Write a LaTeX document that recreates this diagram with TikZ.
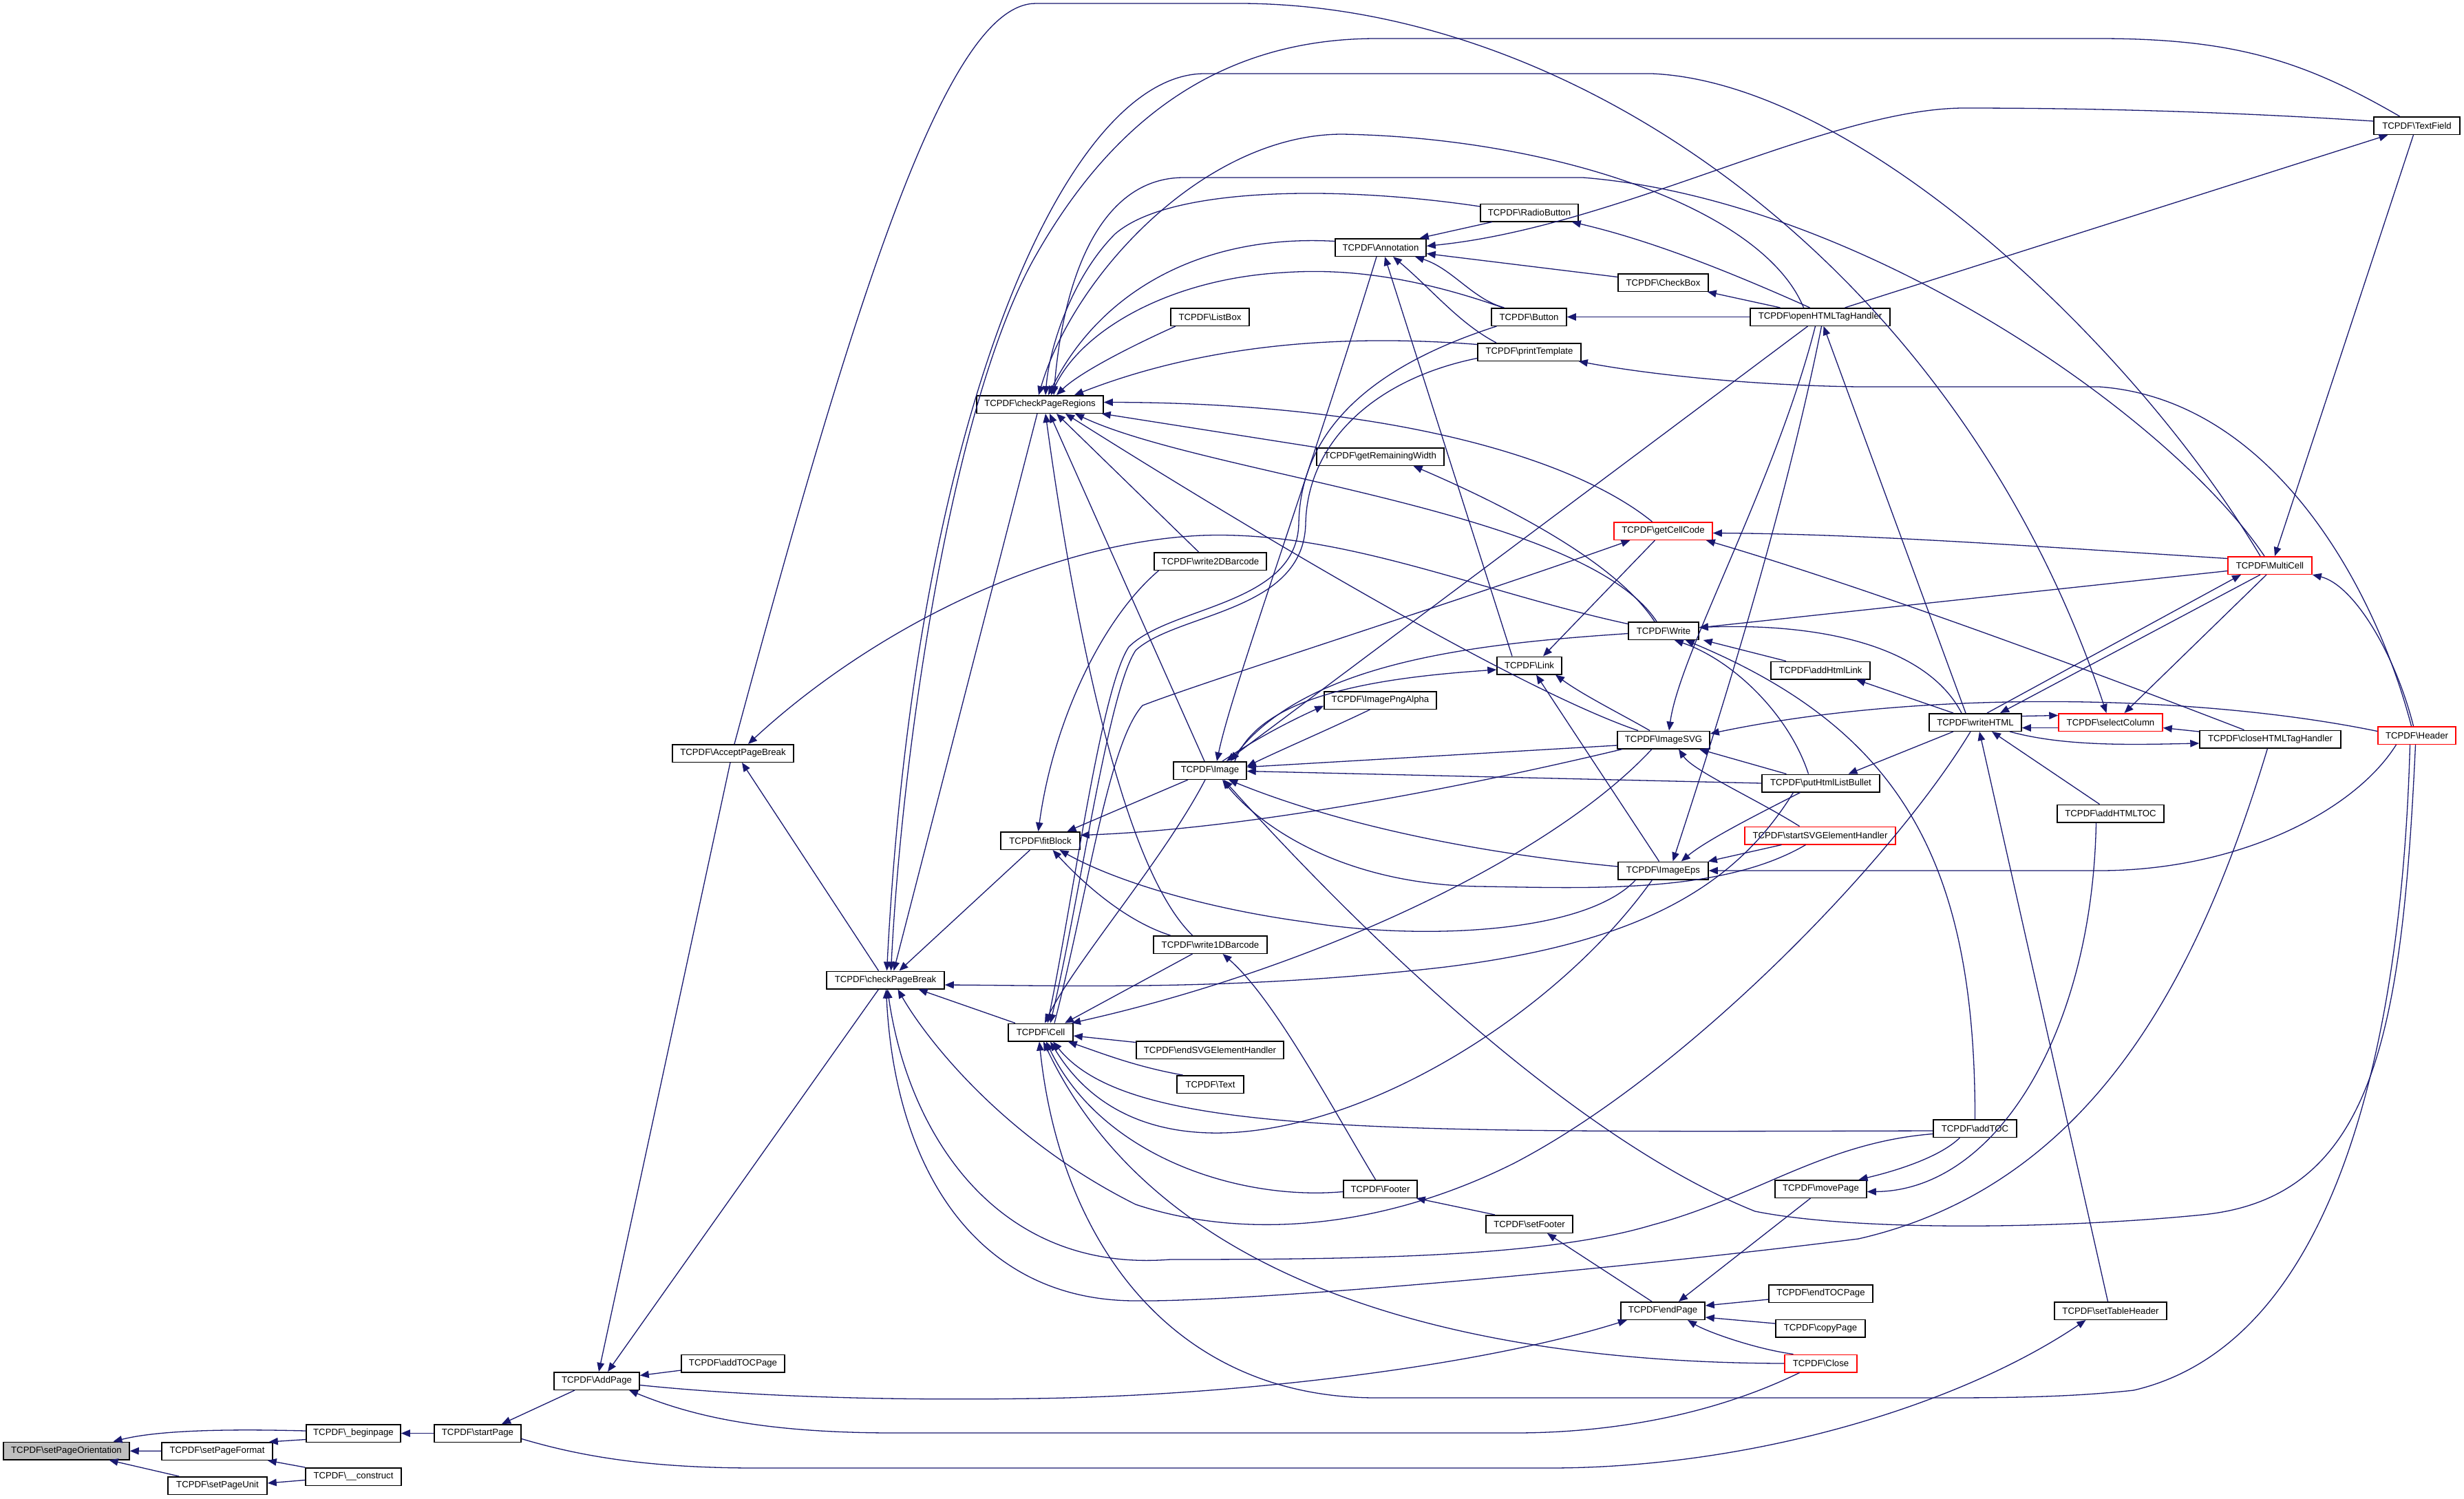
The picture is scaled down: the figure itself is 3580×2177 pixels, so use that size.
\documentclass[tikz,border=0pt]{standalone}
\usepackage{fontspec}
\setmainfont{Liberation Sans}
\usetikzlibrary{arrows.meta}
\definecolor{edgecol}{RGB}{25,25,112}
\definecolor{grayf}{RGB}{191,191,191}
\begin{document}
\begin{tikzpicture}[x=1pt,y=-1pt,
  nbox/.style={draw=black, line width=1.5pt, fill=white, minimum height=25.5pt, inner xsep=3pt, inner ysep=0pt, font=\fontsize{13.2}{15}\selectfont},
  rbox/.style={nbox, draw=red},
  gbox/.style={nbox, fill=grayf},
  ed/.style={draw=edgecol, line width=1.3pt, -{Triangle[length=13pt,width=10.5pt]}}]
\fill[white] (0,0) rectangle (3580,2177);
\useasboundingbox (0,0) rectangle (3580,2177);
% nodes
\node[gbox, minimum width=183pt] (spo) at (96.5,2108) {TCPDF\textbackslash setPageOrientation};
\node[nbox, minimum width=161pt] (spf) at (315.5,2108.5) {TCPDF\textbackslash setPageFormat};
\node[nbox, minimum width=144pt] (spu) at (316,2158.5) {TCPDF\textbackslash setPageUnit};
\node[nbox, minimum width=137pt] (bgp) at (513.5,2082.5) {TCPDF\textbackslash\_beginpage};
\node[nbox, minimum width=139pt] (cons) at (513.5,2145.5) {TCPDF\textbackslash\_\_construct};
\node[nbox, minimum width=126pt] (stp) at (694,2082.5) {TCPDF\textbackslash startPage};
\node[nbox, minimum width=124pt] (addp) at (867,2006.5) {TCPDF\textbackslash AddPage};
\node[nbox, minimum width=176pt] (apb) at (1065,1094.5) {TCPDF\textbackslash AcceptPageBreak};
\node[nbox, minimum width=150pt] (addtocp) at (1065,1981) {TCPDF\textbackslash addTOCPage};
\node[nbox, minimum width=171pt] (cpb) at (1286.5,1424) {TCPDF\textbackslash checkPageBreak};
\node[nbox, minimum width=184pt] (cpr) at (1511,587.5) {TCPDF\textbackslash checkPageRegions};
\node[nbox, minimum width=115pt] (fit) at (1511.5,1221.5) {TCPDF\textbackslash fitBlock};
\node[nbox, minimum width=94pt] (cell) at (1512,1500) {TCPDF\textbackslash Cell};
\node[nbox, minimum width=114pt] (listbox) at (1758,460.5) {TCPDF\textbackslash ListBox};
\node[nbox, minimum width=163pt] (w2d) at (1758.5,815.5) {TCPDF\textbackslash write2DBarcode};
\node[nbox, minimum width=106pt] (image) at (1758,1119.5) {TCPDF\textbackslash Image};
\node[nbox, minimum width=165pt] (w1d) at (1758.5,1372.5) {TCPDF\textbackslash write1DBarcode};
\node[nbox, minimum width=214pt] (endsvg) at (1758,1525.5) {TCPDF\textbackslash endSVGElementHandler};
\node[nbox, minimum width=97pt] (text) at (1758.5,1575.5) {TCPDF\textbackslash Text};
\node[nbox, minimum width=132pt] (annot) at (2006,359.5) {TCPDF\textbackslash Annotation};
\node[nbox, minimum width=185pt] (grw) at (2005.5,663.5) {TCPDF\textbackslash getRemainingWidth};
\node[nbox, minimum width=163pt] (pngalpha) at (2005.5,1017.5) {TCPDF\textbackslash ImagePngAlpha};
\node[nbox, minimum width=107pt] (footer) at (2005.5,1727.5) {TCPDF\textbackslash Footer};
\node[nbox, minimum width=142pt] (radio) at (2222,309) {TCPDF\textbackslash RadioButton};
\node[nbox, minimum width=109pt] (button) at (2221.5,460.5) {TCPDF\textbackslash Button};
\node[nbox, minimum width=150pt] (ptpl) at (2222,511.5) {TCPDF\textbackslash printTemplate};
\node[nbox, minimum width=94pt] (link) at (2222,967) {TCPDF\textbackslash Link};
\node[nbox, minimum width=126pt] (setfooter) at (2222,1778.5) {TCPDF\textbackslash setFooter};
\node[nbox, minimum width=131pt] (checkbox) at (2416.5,410.5) {TCPDF\textbackslash CheckBox};
\node[rbox, minimum width=143pt] (gcc) at (2416.5,771.5) {TCPDF\textbackslash getCellCode};
\node[nbox, minimum width=102pt] (write) at (2417,916.5) {TCPDF\textbackslash Write};
\node[nbox, minimum width=134pt] (svg) at (2417,1075) {TCPDF\textbackslash ImageSVG};
\node[nbox, minimum width=131pt] (eps) at (2416.5,1265) {TCPDF\textbackslash ImageEps};
\node[nbox, minimum width=122pt] (endpage) at (2416,1904.5) {TCPDF\textbackslash endPage};
\node[nbox, minimum width=203pt] (ohtml) at (2644.5,460.5) {TCPDF\textbackslash openHTMLTagHandler};
\node[nbox, minimum width=144pt] (addhl) at (2645,974) {TCPDF\textbackslash addHtmlLink};
\node[nbox, minimum width=171pt] (phlb) at (2645.5,1138) {TCPDF\textbackslash putHtmlListBullet};
\node[rbox, minimum width=219pt] (ssvg) at (2644.5,1214) {TCPDF\textbackslash startSVGElementHandler};
\node[nbox, minimum width=133pt] (movepage) at (2645.5,1727.5) {TCPDF\textbackslash movePage};
\node[nbox, minimum width=151pt] (endtocp) at (2645.5,1879.5) {TCPDF\textbackslash endTOCPage};
\node[nbox, minimum width=130pt] (copyp) at (2645,1930) {TCPDF\textbackslash copyPage};
\node[rbox, minimum width=105pt] (close) at (2645.5,1981) {TCPDF\textbackslash Close};
\node[nbox, minimum width=134pt] (whtml) at (2870,1049.5) {TCPDF\textbackslash writeHTML};
\node[nbox, minimum width=121pt] (addtoc) at (2869.5,1639.5) {TCPDF\textbackslash addTOC};
\node[rbox, minimum width=151pt] (sc) at (3066.5,1049.5) {TCPDF\textbackslash selectColumn};
\node[nbox, minimum width=155pt] (addhtoc) at (3066.5,1182) {TCPDF\textbackslash addHTMLTOC};
\node[nbox, minimum width=163pt] (sth) at (3066.5,1904.5) {TCPDF\textbackslash setTableHeader};
\node[rbox, minimum width=122pt] (multicell) at (3298,821.5) {TCPDF\textbackslash MultiCell};
\node[nbox, minimum width=205pt] (chtml) at (3298.5,1074) {TCPDF\textbackslash closeHTMLTagHandler};
\node[nbox, minimum width=125pt] (textfield) at (3511.5,182.5) {TCPDF\textbackslash TextField};
\node[rbox, minimum width=113pt] (header) at (3511.5,1068.5) {TCPDF\textbackslash Header};
% edges
\draw[ed] (spf) -- (spo);
\draw[ed] ([yshift=3.5pt]bgp.west) .. controls (330,2076) and (230,2078) .. ([xshift=68pt]spo.north);
\draw[ed] ([xshift=17pt]spu.north west) -- ([xshift=62pt]spo.south);
\draw[ed] ([yshift=-9pt]bgp.west) -- ([xshift=-6pt]spf.north east);
\draw[ed] (cons.north west) -- ([xshift=-8pt]spf.south east);
\draw[ed] ([yshift=-5pt]cons.west) -- ([yshift=3.5pt]spu.east);
\draw[ed] (stp) -- (bgp);
\draw[ed] ([xshift=-32pt]addp.south) -- ([xshift=35pt]stp.north);
\draw[ed] ([xshift=-4pt]apb.south) -- ([xshift=3pt]addp.north);
\draw[ed] ([xshift=-10pt]cpb.south) -- ([xshift=16pt]addp.north);
\draw[ed] ([yshift=-10pt]addtocp.west) -- ([yshift=8pt]addp.east);
\draw[ed] ([xshift=-31pt]close.south) .. controls (2480,2060) and (2330,2082) .. (2200,2082) -- (1300,2082) .. controls (1100,2082) and (1000,2055) .. ([xshift=47pt]addp.south);
\draw[ed] ([yshift=-6pt]addp.east) .. controls (1100,2030) and (1300,2035) .. (1500,2032) .. controls (1800,2028) and (2150,1985) .. ([xshift=-52pt]endpage.south);
\draw[ed] ([yshift=-8pt]stp.east) .. controls (850,2118) and (950,2133) .. (1100,2133) -- (2250,2133) .. controls (2550,2133) and (2850,2040) .. ([xshift=-36pt]sth.south);
\draw[ed] ([xshift=-10pt]cpb.north) -- ([xshift=13pt]apb.south);
\draw[ed] ([yshift=10pt]write.west) .. controls (2150,860) and (1950,770) .. (1745,778) .. controls (1500,790) and (1250,930) .. ([xshift=22pt]apb.north);
\draw[ed] ([xshift=2pt]apb.north) .. controls (1250,400) and (1380,5) .. (1505,5) -- (1800,5) .. controls (2300,5) and (2850,400) .. ([xshift=-6pt]sc.north);
\draw[ed] ([xshift=-37pt]cell.north) -- ([xshift=48pt]cpb.south);
\draw[ed] ([xshift=-15pt]fit.south) -- ([xshift=20pt]cpb.north);
\draw[ed] ([xshift=-4pt]cpr.south) -- ([xshift=12pt]cpb.north);
\draw[ed] ([xshift=-14pt]multicell.north) .. controls (3100,500) and (2700,120) .. (2400,107) -- (1750,107) .. controls (1550,107) and (1330,600) .. ([xshift=2pt]cpb.north);
\draw[ed] ([xshift=-25pt]textfield.north) .. controls (3350,90) and (3250,56) .. (3050,56) -- (2000,56) .. controls (1750,56) and (1600,200) .. (1500,380) .. controls (1380,600) and (1310,1100) .. ([xshift=8pt]cpb.north);
\draw[ed] ([xshift=-40pt]phlb.south) .. controls (2520,1290) and (2380,1370) .. (2100,1405) .. controls (1800,1440) and (1550,1432) .. ([yshift=-7pt]cpb.east);
\draw[ed] ([yshift=-8pt]addtoc.west) .. controls (2650,1660) and (2550,1740) .. (2400,1780) .. controls (2250,1825) and (2000,1830) .. (1700,1830) .. controls (1450,1850) and (1320,1650) .. ([xshift=3pt]cpb.south);
\draw[ed] ([xshift=-4pt]chtml.south) .. controls (3200,1400) and (3050,1720) .. (2700,1800) .. controls (2300,1850) and (1800,1892) .. (1650,1890) .. controls (1420,1890) and (1300,1700) .. ([xshift=1pt]cpb.south);
\draw[ed] ([xshift=-7pt]whtml.south) .. controls (2750,1250) and (2450,1560) .. (2200,1690) .. controls (2000,1790) and (1800,1800) .. (1650,1750) .. controls (1450,1650) and (1340,1500) .. ([xshift=18pt]cpb.south);
\draw[ed] ([xshift=-50pt]listbox.south) .. controls (1650,500) and (1570,540) .. ([xshift=24pt]cpr.north);
\draw[ed] ([xshift=-38pt]button.north) .. controls (2050,400) and (1950,390) .. (1865,396) .. controls (1700,405) and (1570,480) .. ([xshift=16pt]cpr.north);
\draw[ed] ([yshift=9pt]annot.west) .. controls (1750,340) and (1600,420) .. ([xshift=12pt]cpr.north);
\draw[ed] ([yshift=9pt]radio.west) .. controls (1950,270) and (1700,270) .. (1620,340) .. controls (1560,400) and (1525,500) .. ([xshift=8pt]cpr.north);
\draw[ed] ([yshift=11pt]ptpl.west) .. controls (1950,485) and (1750,500) .. ([xshift=50pt]cpr.north);
\draw[ed] ([xshift=-8pt]multicell.north) .. controls (3150,600) and (2700,290) .. (2300,258) -- (1720,258) .. controls (1600,258) and (1545,400) .. ([xshift=20pt]cpr.north);
\draw[ed] ([xshift=-24pt]ohtml.north) .. controls (2560,300) and (2250,200) .. (1950,195) .. controls (1750,195) and (1560,400) .. ([xshift=-2pt]cpr.north);
\draw[ed] ([xshift=-16pt]gcc.north) .. controls (2280,660) and (2000,585) .. ([yshift=3pt]cpr.east);
\draw[ed] (grw.north west) -- ([xshift=-3pt]cpr.south east);
\draw[ed] ([xshift=-10pt]write.north) .. controls (2300,740) and (1750,690) .. ([xshift=51pt]cpr.south);
\draw[ed] ([xshift=-37pt]svg.north) .. controls (2200,1000) and (1800,760) .. ([xshift=37pt]cpr.south);
\draw[ed] ([xshift=-17pt]w2d.north) -- ([xshift=24pt]cpr.south);
\draw[ed] ([xshift=-8pt]image.north) -- ([xshift=14pt]cpr.south);
\draw[ed] ([xshift=-26pt]w1d.north) .. controls (1630,1260) and (1560,900) .. ([xshift=8pt]cpr.south);
\draw[ed] ([xshift=-25pt]link.north) -- ([xshift=6pt]annot.south);
\draw[ed] ([xshift=-36pt]button.north) .. controls (2140,435) and (2110,390) .. ([xshift=50pt]annot.south);
\draw[ed] ([xshift=-48pt]ptpl.north) .. controls (2120,470) and (2080,420) .. ([xshift=18pt]annot.south);
\draw[ed] ([xshift=-54pt]radio.south) -- ([xshift=-10pt]annot.north east);
\draw[ed] ([yshift=8pt]checkbox.west) -- ([yshift=-9pt]annot.east);
\draw[ed] ([yshift=6.5pt]textfield.west) .. controls (3200,160) and (3000,157) .. (2850,157) .. controls (2650,160) and (2350,330) .. ([yshift=2pt]annot.east);
\draw[ed] ([xshift=-6pt]annot.south) .. controls (1900,700) and (1790,1000) .. ([xshift=10pt]image.north);
\draw[ed] ([xshift=-15pt]ohtml.north) .. controls (2480,380) and (2380,345) .. ([xshift=-10pt]radio.south east);
\draw[ed] ([xshift=-58pt]ohtml.north) -- ([xshift=-2pt]checkbox.south east);
\draw[ed] (ohtml.west) -- (button.east);
\draw[ed] ([xshift=36pt]ohtml.north) -- ([xshift=-42pt]textfield.south);
\draw[ed] ([xshift=-47pt]button.south) .. controls (2000,530) and (1890,620) .. (1887,760) .. controls (1885,880) and (1700,880) .. (1640,940) .. controls (1600,1000) and (1560,1300) .. ([xshift=10pt]cell.north);
\draw[ed] ([yshift=-9pt]ptpl.west) .. controls (2000,550) and (1900,640) .. (1897,760) .. controls (1895,890) and (1710,890) .. (1650,945) .. controls (1610,1005) and (1570,1300) .. ([xshift=14pt]cell.north);
\draw[ed] ([xshift=20pt]cell.north) .. controls (1580,1300) and (1610,1080) .. (1660,1025) .. controls (1750,990) and (2100,880) .. ([xshift=-48pt]gcc.south);
\draw[ed] ([yshift=-4pt]write.west) .. controls (2150,935) and (1900,960) .. ([xshift=30pt]image.north);
\draw[ed] ([xshift=18pt]image.north) .. controls (1830,1070) and (1880,1045) .. ([yshift=-8pt]pngalpha.west);
\draw[ed] ([xshift=-15pt]pngalpha.south) .. controls (1930,1060) and (1860,1090) .. ([yshift=6pt]image.east);
\draw[ed] ([yshift=-8pt]svg.west) -- ([yshift=5pt]image.east);
\draw[ed] (phlb.west) -- ([yshift=-1pt]image.east);
\draw[ed] ([yshift=6pt]eps.west) .. controls (2150,1240) and (1950,1200) .. ([xshift=27pt]image.south);
\draw[ed] ([xshift=-21pt]ssvg.south) .. controls (2500,1300) and (2300,1290) .. (2150,1288) .. controls (1950,1285) and (1830,1200) .. ([xshift=18pt]image.south);
\draw[ed] ([xshift=-2pt]header.south) .. controls (3490,1500) and (3450,1740) .. (3200,1765) .. controls (3000,1785) and (2700,1790) .. (2550,1760) .. controls (2300,1660) and (2000,1380) .. ([xshift=20pt]image.south);
\draw[ed] ([xshift=-18pt]ohtml.south) -- ([xshift=24pt]image.north);
\draw[ed] ([xshift=36pt]image.north) .. controls (1830,1010) and (2000,985) .. ([yshift=-6pt]link.west);
\draw[ed] ([xshift=-6pt]eps.north) -- ([xshift=10pt]link.south);
\draw[ed] ([xshift=-20pt]svg.north) .. controls (2360,1040) and (2300,1010) .. ([xshift=38pt]link.south);
\draw[ed] ([xshift=-12pt]gcc.south) -- ([xshift=20pt]link.north);
\draw[ed] ([xshift=-32pt]image.south) -- ([xshift=39pt]fit.north);
\draw[ed] ([xshift=-7pt]image.south) .. controls (1690,1250) and (1560,1400) .. ([xshift=6pt]cell.north);
\draw[ed] ([xshift=8pt]svg.south west) .. controls (2100,1150) and (1800,1205) .. ([yshift=8pt]fit.east);
\draw[ed] ([xshift=-40pt]eps.south) .. controls (2300,1360) and (2050,1365) .. (1900,1340) .. controls (1750,1320) and (1620,1280) .. ([xshift=28pt]fit.south);
\draw[ed] ([xshift=-75pt]w2d.south) .. controls (1600,900) and (1530,1050) .. ([xshift=-3pt]fit.north);
\draw[ed] ([xshift=-58pt]w1d.north) .. controls (1640,1340) and (1580,1290) .. ([xshift=18pt]fit.south);
\draw[ed] ([xshift=-26pt]w1d.south) -- ([xshift=35pt]cell.north);
\draw[ed] ([xshift=-7pt]footer.north) .. controls (1930,1600) and (1850,1450) .. ([xshift=18pt]w1d.south);
\draw[ed] ([xshift=-17pt]svg.south) .. controls (2250,1250) and (1900,1410) .. ([xshift=45pt]cell.north);
\draw[ed] ([xshift=-16pt]eps.south) .. controls (2200,1560) and (1700,1800) .. ([xshift=14pt]cell.south);
\draw[ed] ([yshift=-3.5pt]addtoc.west) .. controls (2000,1645) and (1640,1650) .. ([xshift=18pt]cell.south);
\draw[ed] ([yshift=-4pt]footer.west) .. controls (1800,1745) and (1600,1680) .. ([xshift=8pt]cell.south);
\draw[ed] (close.west) .. controls (2200,1980) and (1700,1900) .. ([xshift=4pt]cell.south);
\draw[ed] ([xshift=-10pt]header.south) .. controls (3490,1500) and (3400,1950) .. (3100,2020) .. controls (3000,2031) and (2900,2031) .. (2800,2031) -- (2000,2031) .. controls (1700,2031) and (1540,1800) .. ([xshift=-2pt]cell.south);
\draw[ed] ([yshift=11pt]endsvg.west) -- ([yshift=-5pt]cell.east);
\draw[ed] ([xshift=-40pt]text.north) .. controls (1650,1550) and (1600,1530) .. ([xshift=-8pt]cell.south east);
\draw[ed] ([xshift=-7pt]ohtml.south) .. controls (2580,700) and (2440,950) .. ([xshift=8pt]svg.north);
\draw[ed] ([xshift=2pt]ohtml.south) .. controls (2590,760) and (2480,1100) .. ([xshift=14pt]eps.north);
\draw[ed] ([xshift=-30pt]phlb.south) .. controls (2560,1180) and (2480,1220) .. ([xshift=-40pt]eps.north east);
\draw[ed] ([xshift=-56pt]ssvg.south) -- ([xshift=-1pt]eps.north east);
\draw[ed] ([xshift=-50pt]phlb.north) -- ([xshift=-16pt]svg.south east);
\draw[ed] ([xshift=-30pt]ssvg.north) .. controls (2550,1160) and (2460,1120) .. ([xshift=22pt]svg.south);
\draw[ed] ([yshift=6pt]header.west) .. controls (3200,1010) and (2800,1000) .. ([yshift=9pt]svg.east);
\draw[ed] ([xshift=-30pt]header.south) .. controls (3420,1180) and (3250,1265) .. (3050,1265) -- (eps.east);
\draw[ed] ([xshift=-20pt]whtml.north) .. controls (2800,940) and (2650,905) .. ([yshift=5pt]write.east);
\draw[ed] ([yshift=-8pt]multicell.west) -- ([yshift=4.5pt]write.east);
\draw[ed] ([xshift=-50pt]addhl.north) -- ([xshift=6pt]write.south east);
\draw[ed] ([xshift=-18pt]phlb.north) .. controls (2600,1040) and (2520,960) .. ([xshift=-36pt]write.south east);
\draw[ed] (addtoc.north) .. controls (2870,1250) and (2760,1060) .. ([xshift=-20pt]write.south east);
\draw[ed] ([xshift=-32pt]whtml.north) -- ([xshift=52pt]addhl.south);
\draw[ed] ([xshift=-32pt]whtml.south) -- ([xshift=40pt]phlb.north);
\draw[ed] ([yshift=10pt]multicell.west) .. controls (2900,790) and (2700,776) .. ([yshift=-3pt]gcc.east);
\draw[ed] ([xshift=-38pt]chtml.north) .. controls (3000,960) and (2700,850) .. ([xshift=-10pt]gcc.south east);
\draw[ed] ([xshift=-14pt]whtml.north) -- ([xshift=5pt]ohtml.south);
\draw[ed] ([xshift=17pt]whtml.north) -- ([xshift=-42pt]multicell.south);
\draw[ed] ([xshift=-14pt]multicell.south) -- ([xshift=36pt]whtml.north);
\draw[ed] ([yshift=9pt]whtml.east) -- ([yshift=10pt]sc.west);
\draw[ed] ([yshift=-8pt]sc.west) -- ([yshift=-8pt]whtml.east);
\draw[ed] ([xshift=-5pt]multicell.south) -- ([xshift=20pt]sc.north);
\draw[ed] ([yshift=11pt]chtml.west) -- ([yshift=-8pt]sc.east);
\draw[ed] ([xshift=50pt]whtml.south) .. controls (3000,1085) and (3100,1082) .. ([yshift=-6pt]chtml.west);
\draw[ed] ([xshift=-16pt]addhtoc.north) -- ([xshift=24pt]whtml.south);
\draw[ed] ([xshift=-4pt]sth.north) -- ([xshift=6pt]whtml.south);
\draw[ed] ([xshift=-21pt]addhtoc.south) .. controls (3040,1500) and (2900,1730) .. ([yshift=-4pt]movepage.east);
\draw[ed] ([xshift=-22pt]addtoc.south) .. controls (2820,1680) and (2760,1700) .. ([xshift=55pt]movepage.north);
\draw[ed] ([xshift=-15pt]movepage.south) -- ([xshift=23pt]endpage.north);
\draw[ed] ([yshift=-8.5pt]endtocp.west) -- ([yshift=7.5pt]endpage.east);
\draw[ed] ([yshift=7pt]copyp.west) -- ([yshift=-9.5pt]endpage.east);
\draw[ed] ([xshift=-40pt]close.north) .. controls (2550,1960) and (2480,1935) .. ([xshift=36pt]endpage.south);
\draw[ed] ([xshift=-16pt]endpage.north) -- ([xshift=26pt]setfooter.south);
\draw[ed] ([xshift=-50pt]setfooter.north) -- ([xshift=-2pt]footer.south east);
\draw[ed] ([xshift=-5pt]header.north) .. controls (3480,950) and (3420,850) .. (multicell.south east);
\draw[ed] ([xshift=-8pt]header.north) .. controls (3450,850) and (3300,580) .. (3050,562) -- (2700,562) .. controls (2550,560) and (2400,545) .. ([xshift=-4pt]ptpl.south east);
\draw[ed] ([xshift=-5pt]textfield.south) -- ([xshift=7pt]multicell.north);
\draw[ed] ([xshift=-13pt]write.north) .. controls (2350,820) and (2200,740) .. ([xshift=48pt]grw.south);
\end{tikzpicture}
\end{document}
